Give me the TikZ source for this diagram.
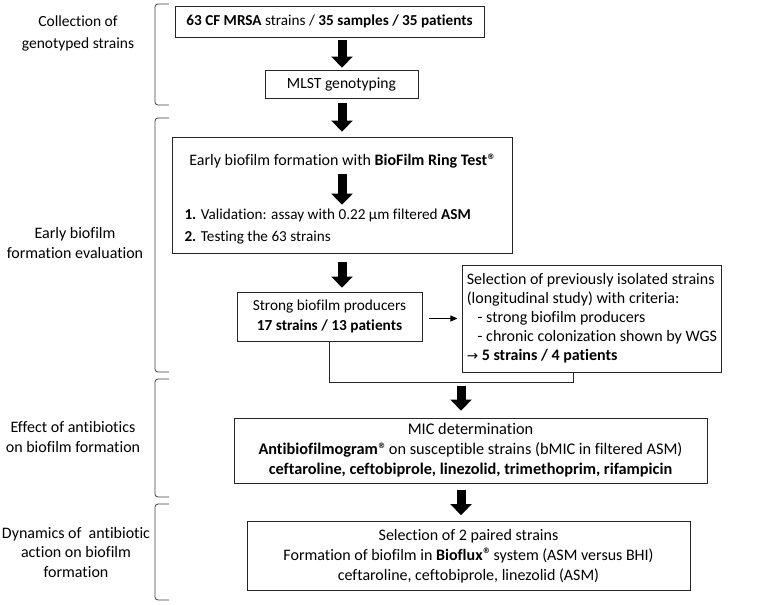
\documentclass[tikz,border=0pt]{standalone}
\usepackage{fontspec}
\setmainfont{Carlito}[Ligatures={NoCommon}]
\newfontfamily\dejavu{DejaVu Sans}
\usetikzlibrary{arrows.meta,calc}
\newcommand{\reg}{\raisebox{0.42em}{\dejavu\fontsize{7.5}{8}\selectfont\textbf{®}}}
\newcommand{\fs}[2]{\fontsize{#1}{#2}\selectfont}
\tikzset{
  box/.style={draw=black!85, line width=0.8pt, inner sep=4pt, align=center},
  bigarrow/.style={line width=9pt, -{Triangle[width=21pt,length=11pt]}, black},
  thinarrow/.style={line width=0.8pt, -{Triangle[width=6pt,length=7pt]}, black},
  bracket/.style={draw=black!75, line width=0.8pt, rounded corners=3pt},
  sidelabel/.style={align=center},
  joinline/.style={draw=black!85, line width=0.8pt}
}
\begin{document}
\begin{tikzpicture}[x=1pt,y=-1pt]
\useasboundingbox (0,0) rectangle (767,604);
% side labels
\node[sidelabel, font=\fs{15.5}{22}] (l1) at (78,33.5) {Collection of\\genotyped strains};
\node[sidelabel, font=\fs{16}{20}] (l2) at (75,243) {Early biofilm\\formation evaluation};
\node[sidelabel, font=\fs{16}{19.5}] (l3) at (73,437) {Effect of antibiotics\\on biofilm formation};
\node[sidelabel, font=\fs{16}{19.5}] (l4) at (76,552) {Dynamics of\ \ antibiotic\\action on biofilm\\formation};
% brackets
\draw[bracket] (169,4) -- (155,4) -- (155,105) -- (169,105);
\draw[bracket] (169,118) -- (155,118) -- (155,372) -- (169,372);
\draw[bracket] (169,379) -- (155,379) -- (155,497) -- (169,497);
\draw[bracket] (169,504) -- (155,504) -- (155,600) -- (169,600);
% boxes
\node[box, minimum width=309pt, minimum height=31pt, font=\fs{15.2}{19}] (b1) at (329.5,21.5) {\textbf{63 CF MRSA} strains / \textbf{35 samples / 35 patients}};
\node[box, minimum width=153pt, minimum height=28pt, font=\fs{15.6}{19}] (b2) at (341.5,84) {MLST genotyping};
\node[box, minimum width=340pt, minimum height=116pt] (b3) at (342,195) {};
\node[font=\fs{16}{20}] (b3t) at (342,161) {Early biofilm formation with \textbf{BioFilm Ring Test}\reg};
\node[font=\fs{15.2}{21.5}, align=left, anchor=west] (b3l) at (181,226.5) {\textbf{1.} Validation: assay with 0.22 µm filtered \textbf{ASM}\\\textbf{2.} Testing the 63 strains};
\node[box, minimum width=185pt, minimum height=49pt, font=\fs{15.3}{20.5}] (b4) at (329.5,316.5) {Strong biofilm producers\\\textbf{17 strains / 13 patients}};
\node[box, minimum width=258pt, minimum height=107pt, align=left, font=\fs{16}{19}] (b5) at (592,318.5) {Selection of previously isolated strains\\(longitudinal study) with criteria:\\\ \ \ - strong biofilm producers\\\ \ \ - chronic colonization shown by WGS\\{\dejavu\fs{13.5}{19}→} \textbf{5 strains / 4 patients}};
\node[box, minimum width=473pt, minimum height=65pt, font=\fs{16.3}{20}] (b6) at (470.5,450.5) {MIC determination\\\textbf{Antibiofilmogram}\reg{} on susceptible strains (bMIC in filtered ASM)\\\textbf{ceftaroline, ceftobiprole, linezolid, trimethoprim, rifampicin}};
\node[box, minimum width=443pt, minimum height=69pt, font=\fs{16}{20}] (b7) at (468.5,556) {Selection of 2 paired strains\\Formation of biofilm in \textbf{Bioflux}\reg{} system (ASM versus BHI)\\ceftaroline, ceftobiprole, linezolid (ASM)};
% connectors
\coordinate (a1) at (342,0);
\draw[bigarrow] ($(b1.south -| a1)+(0,3)$) -- ($(b2.north -| a1)+(0,-2)$);
\draw[bigarrow] ($(b2.south -| a1)+(0,5)$) -- ($(b3.north -| a1)+(0,-5)$);
\draw[bigarrow] ($(b3t.south -| a1)+(0,2)$) -- ($(b3l.north -| a1)+(0,-1)$);
\draw[bigarrow] ($(b3.south -| a1)+(0,9)$) -- ($(b4.north -| a1)+(0,-4)$);
\draw[thinarrow] ($(b4.east)+(7,2)$) -- ($(b5.west |- b4.east)+(-5,2)$);
\coordinate (cr) at (573,382);
\coordinate (join) at (461,382);
\draw[joinline] (b4.south) |- (cr) -- (cr |- b5.south);
\draw[bigarrow] ($(join)+(0,4)$) -- ($(join |- b6.north)+(0,-7)$);
\draw[bigarrow] ($(join |- b6.south)+(0,7)$) -- ($(join |- b7.north)+(0,-6)$);
\end{tikzpicture}
\end{document}
